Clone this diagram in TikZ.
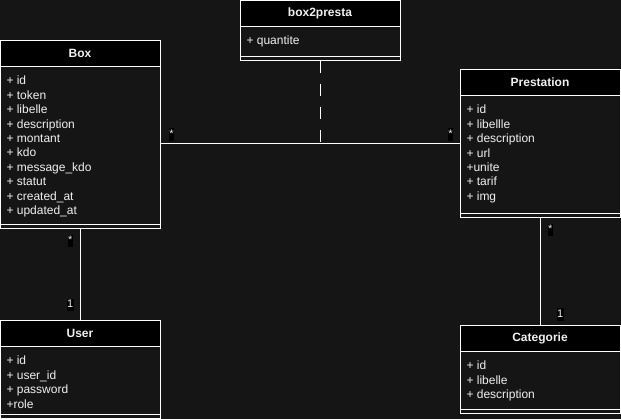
\documentclass[tikz,border=0pt]{standalone}
\usepackage{fontspec}
\setmainfont{Liberation Sans}
\usetikzlibrary{positioning, calc}
\definecolor{canvasGray}{RGB}{21,21,21}
\definecolor{textGray}{RGB}{240,240,240}

\begin{document}
\begin{tikzpicture}[
    x=1pt, y=-1pt,
    line width=1pt,
    font=\fontsize{12}{14.4}\selectfont,
    class/.style={rectangle, draw=white, fill=canvasGray, minimum width=160pt, inner sep=0pt},
    head/.style={rectangle, draw=white, fill=black, minimum width=160pt, minimum height=26pt, anchor=north, font=\fontsize{12}{14.4}\selectfont\bfseries, text=textGray},
    attrs/.style={align=left, inner sep=0pt, anchor=north west, text=textGray},
    foot/.style={rectangle, draw=white, minimum width=160pt, minimum height=4pt, inner sep=0pt, anchor=south},
    mult/.style={fill=black, text=textGray, font=\fontsize{11}{13.2}\selectfont, inner xsep=0.4pt, inner ysep=0.5pt, text height=8.3pt, text depth=2.9pt},
    link/.style={draw=white, line width=1pt}
]

\fill[canvasGray] (0,0) rectangle (621,419);
\useasboundingbox (0,0) rectangle (621,419);

\node[class, minimum height=188pt] (box) at (80,134.3) {};
\node[head] (boxhead) at (box.north) {Box};
\node[attrs] (boxattr) at ($(boxhead.south west)+(6.5,9)$) {+ id\\+ token\\+ libelle\\+ description\\+ montant\\+ kdo\\+ message\_kdo\\+ statut\\+ created\_at\\+ updated\_at};
\node[foot] (boxfoot) at (box.south) {};

\node[class, minimum height=60pt] (box2presta) at (320,30.3) {};
\node[head] (box2prestahead) at (box2presta.north) {box2presta};
\node[attrs] (box2prestaattr) at ($(box2prestahead.south west)+(6.5,9)$) {+ quantite};
\node[foot] (box2prestafoot) at (box2presta.south) {};

\node[class, minimum height=148pt] (prestation) at (540,143.3) {};
\node[head] (prestationhead) at (prestation.north) {Prestation};
\node[attrs] (prestationattr) at ($(prestationhead.south west)+(6.5,9)$) {+ id\\+ libellle\\+ description\\+ url\\+unite\\+ tarif\\+ img};
\node[foot] (prestationfoot) at (prestation.south) {};

\node[class, minimum height=98pt] (user) at (80,369.3) {};
\node[head] (userhead) at (user.north) {User};
\node[attrs] (userattr) at ($(userhead.south west)+(6.5,9)$) {+ id\\+ user\_id\\+ password\\+role};
\node[foot] (userfoot) at (user.south) {};

\node[class, minimum height=88pt] (categorie) at (540,369.3) {};
\node[head] (categoriehead) at (categorie.north) {Categorie};
\node[attrs] (categorieattr) at ($(categoriehead.south west)+(6.5,9)$) {+ id\\+ libelle\\+ description};
\node[foot] (categoriefoot) at (categorie.south) {};

\coordinate (assoc) at (box2presta.south |- prestation.west);
\draw[link] (prestation.west -| box.east) -- (prestation.west);
\draw[link, dash pattern=on 12pt off 11pt] (box2presta.south) -- (assoc);
\draw[link] (box.south) -- (user.north);
\draw[link] (prestation.south) -- (categorie.north);

\node[mult] (boxmany) at (171.5,134.5) {*};
\node[mult] (prestationmany) at (450.5,134.5) {*};
\node[mult] (usermany) at (70.3,241.3) {*};
\node[mult] (userone) at (70.3,305.2) {1};
\node[mult] (categoriemany) at (550.2,230.3) {*};
\node[mult] (categorieone) at (560.3,314.5) {1};

\end{tikzpicture}
\end{document}
